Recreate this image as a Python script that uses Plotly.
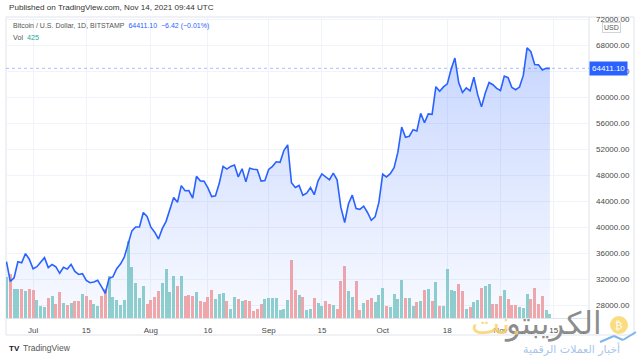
import plotly.graph_objects as go
import pandas as pd

# ---------------- data ----------------
start_date = "2021-06-24"
closes = [
    # Jun 24-30
    34662, 31637, 32186, 34650, 34494, 35911, 35040,
    # Jul
    33572, 33897, 34668, 35287, 33746, 34235, 33855, 32877, 33798, 33520,
    34240, 33155, 32702, 32822, 31780, 31421, 31533, 31796, 30817, 29807,
    32110, 32314, 33581, 34292, 35350, 37337, 39406, 39995, 40008, 42235, 41626,
    # Aug
    39974, 39201, 38152, 39747, 40869, 42816, 44555, 43798, 46365, 45585,
    45593, 44428, 47794, 47097, 47047, 46004, 44695, 44802, 46717, 49339,
    48905, 49321, 49546, 47706, 48960, 46942, 49058, 48897, 48806, 47074, 47166,
    # Sep
    48847, 49328, 50026, 49944, 51753, 52633, 46811, 46091, 46391, 44883,
    45201, 46063, 44963, 47092, 48177, 47783, 47268, 48279, 47261, 43012,
    40694, 43574, 44895, 42840, 42716, 43208, 42236, 41034, 41564, 43791,
    # Oct
    48116, 47711, 48199, 49112, 51514, 55361, 53805, 53967, 54968, 54771,
    57484, 56041, 57401, 57321, 61593, 60892, 61553, 62026, 64262, 65993,
    62210, 60693, 61393, 60931, 63040, 60364, 58482, 60623, 62228, 61889, 61319,
    # Nov 1-14
    61004, 63227, 62970, 61453, 61125, 61527, 63327, 67567, 66971, 64995,
    64950, 64155, 64417.52, 64411.10,
]
volumes = [
    # Jun 24-30
    4026, 4356, 2871, 2871, 2904, 2706, 2904,
    # Jul
    2805, 1815, 1155, 1089, 1980, 2145, 1419, 2541, 1485, 1287,
    1485, 1650, 1650, 2409, 2145, 1815, 1419, 1155, 2145, 2871,
    4125, 2079, 1749, 1287, 1815, 7590, 5016, 3465, 1980, 3135, 1353,
    # Aug
    1749, 2079, 2640, 3465, 4884, 2541, 4125, 3135, 4191, 2145,
    2277, 2211, 2574, 1650, 1551, 2079, 2805, 1914, 2376, 2475,
    1650, 891, 2079, 1914, 1716, 1815, 1716, 660, 924, 1419, 1914,
    # Sep
    1947, 1947, 1947, 825, 891, 1749, 5775, 2805, 2277, 2046,
    825, 924, 2013, 1485, 1155, 1650, 1419, 1287, 891, 3696,
    5115, 2640, 2046, 3696, 825, 1485, 1749, 1980, 1617, 2310,
    # Oct
    2970, 1221, 1089, 2409, 1914, 3795, 2013, 1947, 1155, 1551,
    1716, 2805, 2904, 1650, 3564, 1155, 1155, 4884, 2805, 2640,
    3366, 2706, 924, 1089, 1551, 1815, 2970, 3201, 3366, 1419, 1419,
    # Nov 1-14
    2145, 2805, 1881, 1320, 1320, 1089, 990, 2376, 1914, 2970,
    1419, 2211, 759, 425,
]
# 1 = up day (green volume), 0 = down day (red volume)
vol_up = [
    # Jun 24-30
    1, 0, 1, 1, 0, 1, 0,
    # Jul
    0, 1, 1, 1, 0, 1, 0, 0, 1, 0,
    1, 0, 0, 1, 0, 0, 1, 1, 0, 0,
    1, 1, 1, 1, 1, 1, 1, 1, 1, 1, 0,
    # Aug
    0, 0, 0, 1, 1, 1, 1, 0, 1, 0,
    0, 0, 1, 0, 0, 0, 0, 1, 1, 1,
    0, 1, 1, 0, 1, 0, 0, 0, 0, 0, 1,
    # Sep
    1, 1, 1, 1, 1, 1, 0, 0, 1, 0,
    1, 1, 0, 1, 1, 0, 0, 1, 0, 0,
    0, 1, 1, 0, 0, 1, 0, 0, 1, 1,
    # Oct
    1, 0, 1, 1, 1, 1, 0, 1, 1, 0,
    1, 0, 1, 0, 1, 0, 1, 1, 1, 1,
    0, 0, 1, 0, 1, 1, 0, 1, 1, 0, 0,
    # Nov 1-14
    0, 1, 0, 0, 0, 1, 1, 1, 0, 0,
    0, 0, 1, 1,
]
price_ticks = [28000, 32000, 36000, 40000, 44000, 48000, 52000, 56000,
               60000, 64000, 68000, 72000]
date_ticks = ["2021-07-01", "2021-07-15", "2021-08-01", "2021-08-16", "2021-09-01",
              "2021-09-15", "2021-10-01", "2021-10-18", "2021-11-01", "2021-11-15"]
date_tick_labels = ["Jul", "15", "Aug", "16", "Sep", "15", "Oct", "18", "Nov", "15"]

dates = pd.date_range(start_date, periods=len(closes), freq="D")

# ---------------- layout helpers ----------------
W, H = 640, 358
PL, PR, PT, PB = 6, 589, 17, 318


def px(x):
    return (x - PL) / (PR - PL)


def py(y):
    return (PB - y) / (PB - PT)


UP_COL = "#92d2cc"
DN_COL = "#f7a9a7"
LINE_COL = "#2962ff"
FONT = "Liberation Sans, Arial, sans-serif"

last = closes[-1]
chg = closes[-1] - closes[-2]
pct = chg / closes[-2] * 100

fig = go.Figure()
fig.add_trace(go.Bar(
    x=dates, y=volumes, yaxis="y",
    marker=dict(color=[UP_COL if u else DN_COL for u in vol_up], line=dict(width=0)),
    width=0.78 * 86400000, hoverinfo="skip",
))
fig.add_trace(go.Scatter(
    x=dates, y=closes, yaxis="y2", mode="lines",
    line=dict(color=LINE_COL, width=1.6),
    fill="tozeroy",
    fillgradient=dict(type="vertical", start=26000, stop=68000,
                      colorscale=[[0, "rgba(41,98,255,0.03)"], [1, "rgba(41,98,255,0.26)"]]),
    hoverinfo="skip",
))

shapes = [
    # frame
    dict(type="rect", xref="paper", yref="paper", x0=0, x1=px(634), y0=py(335), y1=1,
         line=dict(color="#e0e3eb", width=1), layer="below"),
    dict(type="line", xref="paper", yref="paper", x0=1, x1=1, y0=py(335), y1=1,
         line=dict(color="#e0e3eb", width=1)),
    # last price dotted line
    dict(type="line", xref="paper", yref="y2", x0=0, x1=1, y0=last, y1=last,
         line=dict(color="rgba(41,98,255,0.4)", width=1, dash="dot")),
    # watermark coin
    dict(type="circle", xref="paper", yref="paper", x0=px(610), x1=px(628), y0=py(334), y1=py(316),
         fillcolor="#f9d873", line=dict(width=0), opacity=0.9),
    dict(type="line", xref="paper", yref="paper", x0=px(600), x1=px(614), y0=py(342), y1=py(336),
         line=dict(color="#7fb6ea", width=2)),
    dict(type="line", xref="paper", yref="paper", x0=px(614), x1=px(623), y0=py(336), y1=py(340),
         line=dict(color="#7fb6ea", width=2)),
    dict(type="line", xref="paper", yref="paper", x0=px(623), x1=px(636), y0=py(340), y1=py(332),
         line=dict(color="#7fb6ea", width=2)),
]

annotations = [
    dict(xref="paper", yref="paper", x=px(7), y=py(8), xanchor="left", yanchor="middle",
         text="Published on TradingView.com, Nov 14, 2021 09:44 UTC", showarrow=False,
         font=dict(size=8.1, color="#333333", family=FONT)),
    dict(xref="paper", yref="paper", x=px(11), y=py(26), xanchor="left", yanchor="middle",
         text=("Bitcoin / U.S. Dollar, 1D, BITSTAMP&nbsp;&nbsp;<span style='color:#2962ff'>"
               f"{last:.2f}&nbsp;&nbsp;\u2212{abs(chg):.2f} (\u2212{abs(pct):.2f}%)</span>"),
         showarrow=False, font=dict(size=7.0, color="#555555", family=FONT)),
    dict(xref="paper", yref="paper", x=px(11), y=py(37), xanchor="left", yanchor="middle",
         text=f"Vol&nbsp;&nbsp;<span style='color:#26a69a'>{volumes[-1]}</span>",
         showarrow=False, font=dict(size=7.2, color="#555555", family=FONT)),
    dict(xref="paper", yref="y2", x=1, y=last, xanchor="left", yanchor="middle",
         text=f"{last:.2f}", showarrow=False, bgcolor="#2962ff", borderpad=2,
         font=dict(size=8, color="white", family=FONT)),
    dict(xref="paper", yref="paper", x=px(611.5), y=py(27), xanchor="center", yanchor="middle",
         text="USD", showarrow=False, bgcolor="white", bordercolor="#d1d4dc", borderwidth=1,
         borderpad=1, font=dict(size=7, color="#555555", family=FONT)),
    dict(xref="paper", yref="paper", x=px(7), y=py(348), xanchor="left", yanchor="middle",
         text="<b>TV</b>", showarrow=False, font=dict(size=8, color="#131722", family=FONT)),
    dict(xref="paper", yref="paper", x=px(21), y=py(348), xanchor="left", yanchor="middle",
         text="TradingView", showarrow=False, font=dict(size=8.5, color="#555555", family=FONT)),
    # watermark
    dict(xref="paper", yref="paper", x=px(604), y=py(323), xanchor="right", yanchor="middle",
         text="الكريبتو", showarrow=False,
         font=dict(size=31, color="rgba(110,110,110,0.8)", family="DejaVu Sans")),
    dict(xref="paper", yref="paper", x=px(512), y=py(323), xanchor="right", yanchor="middle",
         text="نت", showarrow=False,
         font=dict(size=31, color="rgba(248,210,110,0.85)", family="DejaVu Sans")),
    dict(xref="paper", yref="paper", x=px(516), y=py(332), xanchor="center", yanchor="middle",
         text="●", showarrow=False,
         font=dict(size=5, color="rgba(248,210,110,0.85)", family="DejaVu Sans")),
    dict(xref="paper", yref="paper", x=px(619), y=py(325), xanchor="center", yanchor="middle",
         text="₿", showarrow=False, font=dict(size=11, color="white", family="DejaVu Sans")),
    dict(xref="paper", yref="paper", x=px(622), y=py(349), xanchor="right", yanchor="middle",
         text="أخبار العملات الرقمية", showarrow=False,
         font=dict(size=11, color="#a9c6ea", family="DejaVu Sans")),
]

fig.update_layout(
    width=W, height=H,
    margin=dict(l=PL, r=W - PR, t=PT, b=H - PB),
    paper_bgcolor="white", plot_bgcolor="white",
    showlegend=False, bargap=0,
    font=dict(family=FONT, size=8, color="#4a4a4a"),
    xaxis=dict(
        type="date",
        range=["2021-06-23 21:00", "2021-11-24 07:00"],
        tickvals=date_ticks, ticktext=date_tick_labels,
        showgrid=True, gridcolor="#f0f3fa", gridwidth=1,
        showline=True, linecolor="#e0e3eb", linewidth=1,
        ticks="", ticklabelstandoff=4, zeroline=False,
        tickfont=dict(size=8, color="#4a4a4a", family=FONT),
        fixedrange=True,
    ),
    yaxis=dict(
        range=[0, 29800], visible=False, showgrid=False, zeroline=False, fixedrange=True,
    ),
    yaxis2=dict(
        overlaying="y", side="right", range=[26000, 72308],
        tickvals=price_ticks, tickformat=".2f",
        showgrid=True, gridcolor="#f0f3fa", gridwidth=1,
        zeroline=False, showline=False, ticks="", ticklabelstandoff=6,
        tickfont=dict(size=8, color="#4a4a4a", family=FONT),
        fixedrange=True,
    ),
    shapes=shapes,
    annotations=annotations,
)

fig.write_html(
    "out.html",
    config={"displayModeBar": False, "staticPlot": True},
    post_script="document.body.style.margin='0';document.body.style.overflow='hidden';",
)
